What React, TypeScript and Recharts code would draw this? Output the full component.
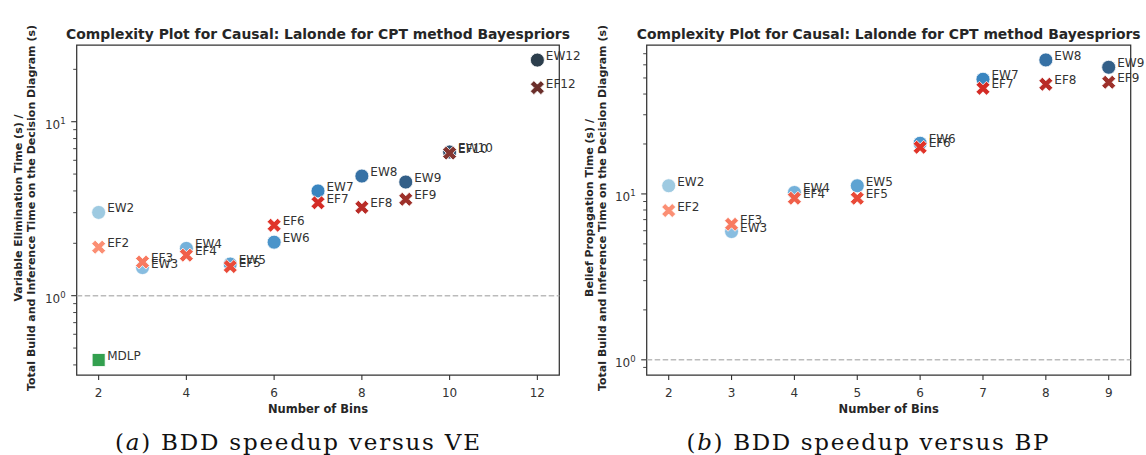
import { ScatterChart, Scatter, XAxis, YAxis, ReferenceLine, ReferenceArea, Cell } from 'recharts'

const FONT = '"DejaVu Sans", sans-serif'
const INK = '#333'

// (a) BDD speedup vs variable elimination
const veBins = [2, 3, 4, 5, 6, 7, 8, 9, 10, 12]
const veEW = [3.01, 1.45, 1.87, 1.52, 2.03, 4.0, 4.87, 4.5, 6.7, 22.6]
const veEF = [1.9, 1.56, 1.71, 1.47, 2.54, 3.42, 3.22, 3.58, 6.6, 15.7]
const mdlpBins = [2]
const veMDLP = [0.427]

// (b) BDD speedup vs belief propagation
const bpBins = [2, 3, 4, 5, 6, 7, 8, 9]
const bpEW = [11.2, 5.93, 10.2, 11.2, 20.2, 49.1, 64.2, 58.0]
const bpEF = [7.94, 6.56, 9.42, 9.42, 19.1, 43.3, 45.8, 47.1]

const veXTicks = [2, 4, 6, 8, 10, 12]
const bpXTicks = [2, 3, 4, 5, 6, 7, 8, 9]
const majorY = [1, 10]
const veMinorY = [0.4, 0.5, 0.6, 0.7, 0.8, 0.9, 2, 3, 4, 5, 6, 7, 8, 9, 20]
const bpMinorY = [0.9, 2, 3, 4, 5, 6, 7, 8, 9, 20, 30, 40, 50, 60, 70]

const TITLE = 'Complexity Plot for Causal: Lalonde for CPT method Bayespriors'

// blues_d / reds_d like palettes, keyed by bin count
const blues: Record<number, string> = {
  2: '#9ecae1', 3: '#88bde0', 4: '#74b1da', 5: '#5ea3d2', 6: '#4a94ca',
  7: '#3985c0', 8: '#3671a5', 9: '#335f88', 10: '#324f6e', 12: '#2c3e4c',
}
const reds: Record<number, string> = {
  2: '#fb8f74', 3: '#f87a60', 4: '#f0604a', 5: '#e94a38', 6: '#e03429',
  7: '#d42b25', 8: '#b92c27', 9: '#9d302a', 10: '#843530', 12: '#6b2f2b',
}

const label = (cx: number, cy: number, text: string) => (
  <text x={cx + 8.5} y={cy - 4} dominantBaseline="central" fontSize={12} fontFamily={FONT} fill={INK}>{text}</text>
)

const circleShape = (p: any) => (
  <g>
    <circle cx={p.cx} cy={p.cy} r={7} fill={p.fill} stroke="#fff" strokeWidth={0.8} />
    {label(p.cx, p.cy, p.payload.name)}
  </g>
)

const X_PTS = [[-1, -2], [0, -1], [1, -2], [2, -1], [1, 0], [2, 1], [1, 2], [0, 1], [-1, 2], [-2, 1], [-1, 0], [-2, -1]]
const crossShape = (p: any) => (
  <g>
    <polygon points={X_PTS.map(([a, b]) => `${p.cx + a * 3.5},${p.cy + b * 3.5}`).join(' ')} fill={p.fill} stroke="#fff" strokeWidth={0.8} />
    {label(p.cx, p.cy, p.payload.name)}
  </g>
)

const squareShape = (p: any) => (
  <g>
    <rect x={p.cx - 6.5} y={p.cy - 6.5} width={13} height={13} fill={p.fill} stroke="#fff" strokeWidth={0.8} />
    {label(p.cx, p.cy, p.payload.name)}
  </g>
)

function LogTick(props: any) {
  const { x, y, payload } = props
  const v = payload.value
  if (!majorY.includes(v)) {
    return <line x1={x - 3.5} x2={x} y1={y} y2={y} stroke={INK} strokeWidth={0.9} />
  }
  return (
    <g>
      <line x1={x - 5.5} x2={x} y1={y} y2={y} stroke={INK} strokeWidth={1.1} />
      <text x={x - 11} y={y + 7.5} textAnchor="end" fill={INK} fontSize={12} fontFamily={FONT}>
        10<tspan dy={-5.5} fontSize={8.5}>{Math.round(Math.log10(v))}</tspan>
      </text>
    </g>
  )
}

interface PanelProps {
  bins: number[]
  ew: number[]
  ef: number[]
  mdlp?: number[]
  xDomain: [number, number]
  yDomain: [number, number]
  xTicks: number[]
  minorY: number[]
  width: number
  right: number
}

function Panel({ bins, ew, ef, mdlp, xDomain, yDomain, xTicks, minorY, width, right }: PanelProps) {
  const ewData = bins.map((b, i) => ({ bins: b, value: ew[i], name: `EW${b}` }))
  const efData = bins.map((b, i) => ({ bins: b, value: ef[i], name: `EF${b}` }))
  const mdlpData = (mdlp || []).map((v, i) => ({ bins: mdlpBins[i], value: v, name: 'MDLP' }))
  const yTicks = [...minorY, ...majorY].sort((a, b) => a - b)

  return (
    <ScatterChart width={width} height={400} margin={{ top: 45, right, bottom: 0, left: 16.7 }}>
      <XAxis
        type="number" dataKey="bins" domain={xDomain} ticks={xTicks} interval={0}
        height={25} tickSize={5} tickMargin={8} axisLine={false}
        tickLine={{ stroke: INK, strokeWidth: 1.1 }}
        tick={{ fill: INK, fontSize: 12, fontFamily: FONT }}
      />
      <YAxis
        type="number" dataKey="value" scale="log" domain={yDomain}
        ticks={yTicks} interval={0} width={60} tickSize={0} tickMargin={0}
        axisLine={false} tickLine={false} tick={<LogTick />}
      />
      <ReferenceLine y={1} stroke="#bbb" strokeWidth={1.4} strokeDasharray="5.5 2.5" />
      <Scatter data={ewData} shape={circleShape} isAnimationActive={false}>
        {ewData.map((d) => <Cell key={d.name} fill={blues[d.bins]} />)}
      </Scatter>
      <Scatter data={efData} shape={crossShape} isAnimationActive={false}>
        {efData.map((d) => <Cell key={d.name} fill={reds[d.bins]} />)}
      </Scatter>
      {mdlpData.length > 0 && (
        <Scatter data={mdlpData} shape={squareShape} fill="#33a04f" isAnimationActive={false} />
      )}
      <ReferenceArea x1={xDomain[0]} x2={xDomain[1]} y1={yDomain[0]} y2={yDomain[1]} fill="none" fillOpacity={0} stroke={INK} strokeWidth={1.25} strokeOpacity={1} />
    </ScatterChart>
  )
}

function YLabel({ x, lines }: { x: number; lines: string[] }) {
  return (
    <>
      {lines.map((t, i) => (
        <text key={i} transform={`translate(${x + i * 13.4},208) rotate(-90)`} textAnchor="middle" dominantBaseline="central"
          fontSize={11} fontWeight="bold" fontFamily={FONT} fill="#262626">{t}</text>
      ))}
    </>
  )
}

export default function App() {
  return (
    <div style={{ position: 'absolute', left: 0, top: 0, width: 1146, height: 455, background: '#fff', fontFamily: FONT, overflow: 'hidden' }}>
      <div style={{ position: 'absolute', left: 570, top: 0 }}>
        <Panel bins={bpBins} ew={bpEW} ef={bpEF} xDomain={[1.65, 9.35]} yDomain={[0.81, 79]}
          xTicks={bpXTicks} minorY={bpMinorY} width={606} right={45.3} />
      </div>
      <div style={{ position: 'absolute', left: 0, top: 0 }}>
        <Panel bins={veBins} ew={veEW} ef={veEF} mdlp={veMDLP} xDomain={[1.5, 12.5]} yDomain={[0.35, 27.6]}
          xTicks={veXTicks} minorY={veMinorY} width={600} right={40.7} />
      </div>
      <svg width={1146} height={455} style={{ position: 'absolute', left: 0, top: 0, pointerEvents: 'none' }}>
        <text x={318} y={34} textAnchor="middle" dominantBaseline="central" fontSize={13.9} fontWeight="bold" fontFamily={FONT} fill="#262626">{TITLE}</text>
        <text x={888.7} y={34} textAnchor="middle" dominantBaseline="central" fontSize={13.9} fontWeight="bold" fontFamily={FONT} fill="#262626">{TITLE}</text>
        <YLabel x={18.3} lines={['Variable Elimination Time (s) /', 'Total Build and Inference Time on the Decision Diagram (s)']} />
        <YLabel x={589} lines={['Belief Propagation Time (s) /', 'Total Build and Inference Time on the Decision Diagram (s)']} />
        <text x={318} y={409} textAnchor="middle" dominantBaseline="central" fontSize={11.5} fontWeight="bold" fontFamily={FONT} fill="#262626">Number of Bins</text>
        <text x={888.7} y={409} textAnchor="middle" dominantBaseline="central" fontSize={11.5} fontWeight="bold" fontFamily={FONT} fill="#262626">Number of Bins</text>
        <text x={297.5} y={450} textAnchor="middle" fontSize={23} fontFamily='"DejaVu Serif", serif' fill="#111" textLength={365} lengthAdjust="spacing">
          (<tspan fontStyle="italic">a</tspan>) BDD speedup versus VE
        </text>
        <text x={867.5} y={450} textAnchor="middle" fontSize={23} fontFamily='"DejaVu Serif", serif' fill="#111" textLength={362} lengthAdjust="spacing">
          (<tspan fontStyle="italic">b</tspan>) BDD speedup versus BP
        </text>
      </svg>
    </div>
  )
}
